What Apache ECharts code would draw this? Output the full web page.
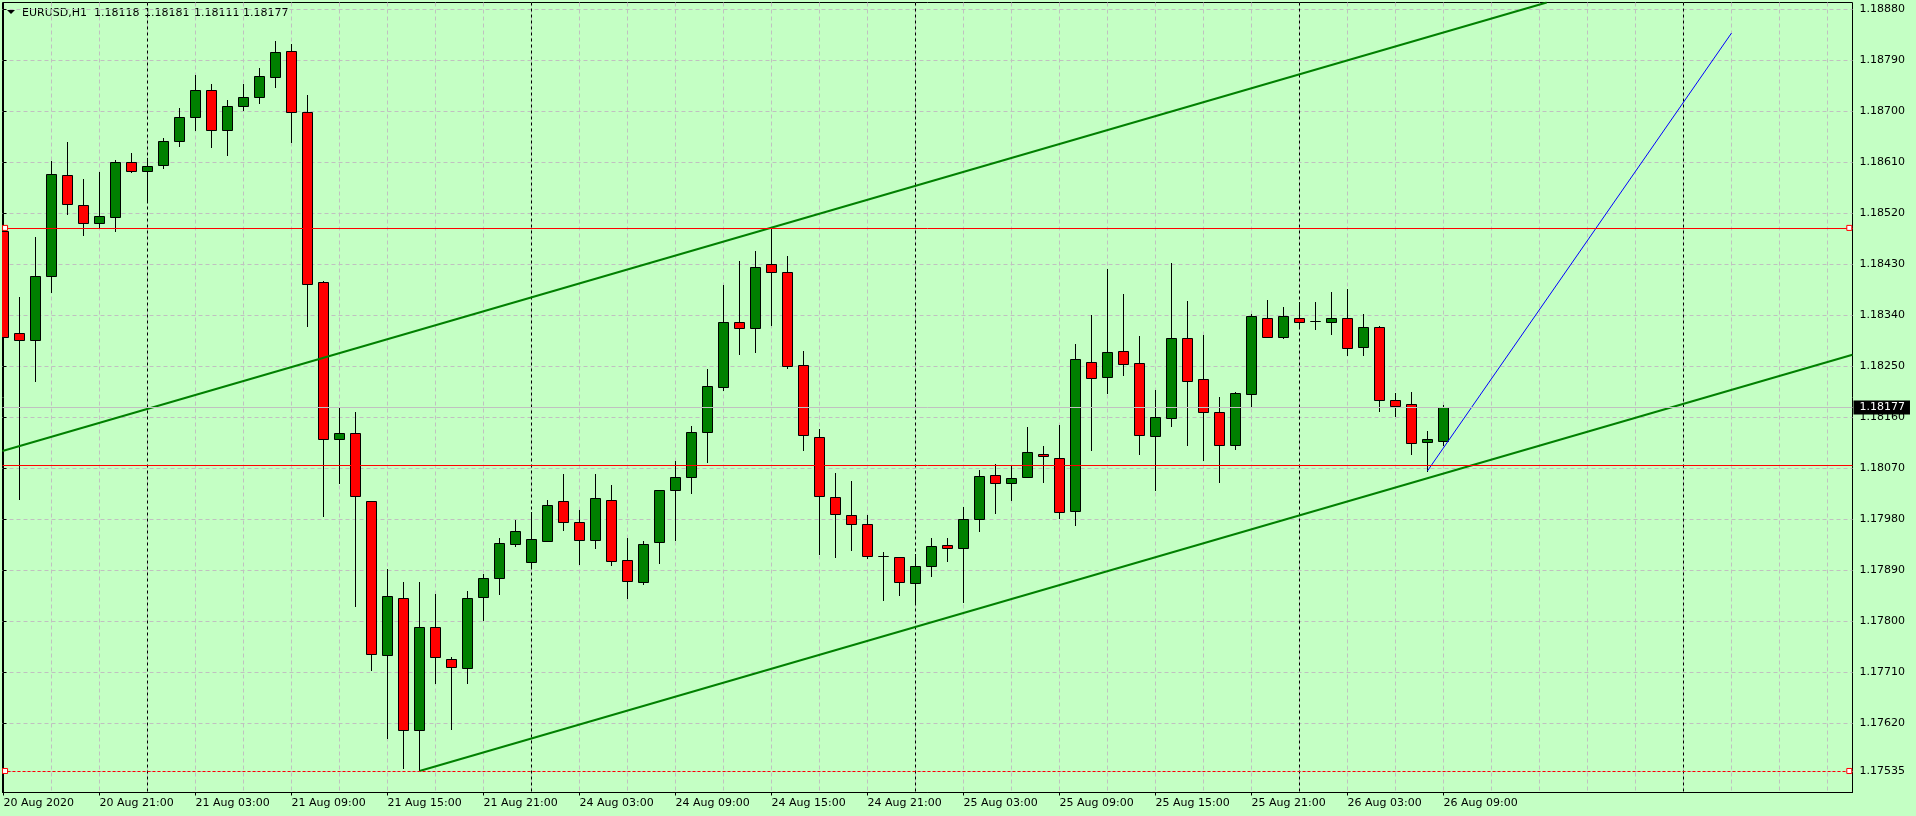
<!DOCTYPE html>
<html>
<head>
<meta charset="utf-8">
<title>EURUSD,H1</title>
<script src="https://cdn.jsdelivr.net/npm/echarts@6/dist/echarts.min.js"></script>
<style>
  html, body { margin: 0; padding: 0; background: #c4ffc4; }
  #chart { width: 1916px; height: 816px; }
</style>
</head>
<body>
<div id="chart"></div>
<script>
const symbolName = 'EURUSD,H1';

// hourly bars, 20 Aug 15:00 -> 26 Aug 09:00 : [open, high, low, close]
const candles = [
  [1.18488, 1.18558, 1.18257, 1.18301],
  [1.18308, 1.18372, 1.18015, 1.18296],
  [1.18296, 1.18478, 1.18223, 1.18409],
  [1.18409, 1.18613, 1.18380, 1.18589],
  [1.18587, 1.18646, 1.18518, 1.18536],
  [1.18534, 1.18580, 1.18482, 1.18503],
  [1.18503, 1.18593, 1.18493, 1.18515],
  [1.18513, 1.18614, 1.18489, 1.18610],
  [1.18610, 1.18627, 1.18592, 1.18594],
  [1.18594, 1.18617, 1.18539, 1.18603],
  [1.18605, 1.18652, 1.18599, 1.18647],
  [1.18647, 1.18706, 1.18639, 1.18689],
  [1.18689, 1.18764, 1.18667, 1.18737],
  [1.18737, 1.18748, 1.18636, 1.18667],
  [1.18667, 1.18720, 1.18623, 1.18709],
  [1.18710, 1.18748, 1.18703, 1.18726],
  [1.18726, 1.18777, 1.18715, 1.18763],
  [1.18760, 1.18824, 1.18742, 1.18804],
  [1.18806, 1.18819, 1.18646, 1.18698],
  [1.18698, 1.18729, 1.18320, 1.18395],
  [1.18398, 1.18400, 1.17986, 1.18121],
  [1.18122, 1.18178, 1.18043, 1.18132],
  [1.18132, 1.18169, 1.17826, 1.18020],
  [1.18012, 1.18012, 1.17713, 1.17741],
  [1.17740, 1.17892, 1.17594, 1.17844],
  [1.17840, 1.17869, 1.17540, 1.17607],
  [1.17607, 1.17869, 1.17535, 1.17789],
  [1.17789, 1.17848, 1.17690, 1.17736],
  [1.17733, 1.17736, 1.17610, 1.17718],
  [1.17717, 1.17853, 1.17690, 1.17840],
  [1.17842, 1.17883, 1.17801, 1.17876],
  [1.17876, 1.17947, 1.17848, 1.17937],
  [1.17936, 1.17979, 1.17933, 1.17959],
  [1.17904, 1.17992, 1.17893, 1.17944],
  [1.17941, 1.18014, 1.17941, 1.18004],
  [1.18012, 1.18060, 1.17960, 1.17974],
  [1.17974, 1.17996, 1.17900, 1.17943],
  [1.17943, 1.18060, 1.17928, 1.18017],
  [1.18013, 1.18040, 1.17898, 1.17905],
  [1.17907, 1.17947, 1.17840, 1.17870],
  [1.17868, 1.17941, 1.17866, 1.17936],
  [1.17939, 1.18031, 1.17903, 1.18031],
  [1.18031, 1.18083, 1.17942, 1.18054],
  [1.18054, 1.18144, 1.18025, 1.18133],
  [1.18133, 1.18245, 1.18080, 1.18214],
  [1.18213, 1.18393, 1.18207, 1.18327],
  [1.18327, 1.18436, 1.18272, 1.18317],
  [1.18318, 1.18453, 1.18274, 1.18425],
  [1.18430, 1.18494, 1.18323, 1.18416],
  [1.18416, 1.18445, 1.18247, 1.18251],
  [1.18252, 1.18277, 1.18101, 1.18128],
  [1.18124, 1.18139, 1.17919, 1.18021],
  [1.18019, 1.18061, 1.17912, 1.17988],
  [1.17987, 1.18047, 1.17926, 1.17971],
  [1.17971, 1.17987, 1.17911, 1.17914],
  [1.17915, 1.17921, 1.17837, 1.17915],
  [1.17913, 1.17913, 1.17845, 1.17868],
  [1.17867, 1.17918, 1.17834, 1.17897],
  [1.17897, 1.17947, 1.17880, 1.17932],
  [1.17934, 1.17947, 1.17905, 1.17929],
  [1.17929, 1.18001, 1.17834, 1.17980],
  [1.17980, 1.18067, 1.17958, 1.18056],
  [1.18057, 1.18077, 1.17990, 1.18043],
  [1.18043, 1.18074, 1.18013, 1.18052],
  [1.18054, 1.18143, 1.18054, 1.18098],
  [1.18094, 1.18109, 1.18046, 1.18091],
  [1.18087, 1.18146, 1.17981, 1.17992],
  [1.17994, 1.18289, 1.17970, 1.18262],
  [1.18257, 1.18340, 1.18101, 1.18229],
  [1.18230, 1.18422, 1.18203, 1.18275],
  [1.18276, 1.18377, 1.18235, 1.18253],
  [1.18255, 1.18303, 1.18094, 1.18128],
  [1.18126, 1.18208, 1.18032, 1.18160],
  [1.18158, 1.18432, 1.18145, 1.18299],
  [1.18299, 1.18365, 1.18110, 1.18223],
  [1.18227, 1.18305, 1.18084, 1.18169],
  [1.18169, 1.18196, 1.18046, 1.18110],
  [1.18110, 1.18204, 1.18104, 1.18202],
  [1.18200, 1.18342, 1.18180, 1.18338],
  [1.18335, 1.18367, 1.18301, 1.18301],
  [1.18301, 1.18355, 1.18299, 1.18338],
  [1.18335, 1.18363, 1.18317, 1.18327],
  [1.18329, 1.18363, 1.18316, 1.18329],
  [1.18327, 1.18381, 1.18307, 1.18335],
  [1.18335, 1.18386, 1.18269, 1.18282],
  [1.18283, 1.18342, 1.18269, 1.18319],
  [1.18319, 1.18320, 1.18170, 1.18190],
  [1.18190, 1.18203, 1.18161, 1.18179],
  [1.18183, 1.18204, 1.18094, 1.18114],
  [1.18116, 1.18135, 1.18065, 1.18121],
  [1.18118, 1.18181, 1.18111, 1.18177]
];

// bar index of each time label
const xTickIdx = [0, 6, 12, 18, 24, 30, 36, 42, 48, 54, 60, 66, 72, 78, 84, 90];
const xTickLabels = [
  '20 Aug 2020', '20 Aug 21:00', '21 Aug 03:00', '21 Aug 09:00',
  '21 Aug 15:00', '21 Aug 21:00', '24 Aug 03:00', '24 Aug 09:00',
  '24 Aug 15:00', '24 Aug 21:00', '25 Aug 03:00', '25 Aug 09:00',
  '25 Aug 15:00', '25 Aug 21:00', '26 Aug 03:00', '26 Aug 09:00'
];
const yTicks = [1.17535, 1.17620, 1.17710, 1.17800, 1.17890, 1.17980, 1.18070, 1.18160,
  1.18250, 1.18340, 1.18430, 1.18520, 1.18610, 1.18700, 1.18790, 1.18880];

// day starts (00:00 bars), incl. the empty space on the right
const daySeparators = [9, 33, 57, 81, 105];

// drawn objects
const redLevels = [1.18494, 1.18075];
const lowLevel = 1.17535;
const upperTrend = [[-0.0625, 1.18100], [96.45, 1.18892]];
const lowerTrend = [[26, 1.17535], [115.56, 1.18270]];
const blueTrend = [[89, 1.18065], [108, 1.18838]];

const X_MIN = -0.0625, X_MAX = 115.5625;
const Y_MIN = 1.17497, Y_MAX = 1.18892;

const FONT = '"DejaVu Sans", sans-serif';
const BULL = '#008000', BEAR = '#ff0000';
const last = candles[candles.length - 1];
const bid = last[3];

// grey grid every 3 bars
const gridIdx = [];
for (let i = 3; i < X_MAX; i += 3) gridIdx.push(i);

const chart = echarts.init(document.getElementById('chart'));

function renderCandle(params, api) {
  const i = api.value(0);
  const o = api.value(1), h = api.value(2), l = api.value(3), c = api.value(4);
  const top = api.coord([i, Math.max(o, c)]);
  const bot = api.coord([i, Math.min(o, c)]);
  const hi = api.coord([i, h]);
  const lo = api.coord([i, l]);
  const cx = Math.floor(top[0]) + 0.5;
  const half = Math.round(api.size([1, 0])[0] * 0.31);
  const yTop = Math.round(top[1]) + 0.5;
  const yBot = Math.round(bot[1]) + 0.5;
  return {
    type: 'group',
    children: [
      {
        type: 'line',
        shape: { x1: cx, y1: Math.round(hi[1]), x2: cx, y2: Math.round(lo[1]) + 1 },
        style: { stroke: '#000', lineWidth: 1 }
      },
      {
        type: 'rect',
        shape: { x: cx - half, y: yTop, width: half * 2, height: yBot - yTop },
        style: { fill: c > o ? BULL : (c < o ? BEAR : '#000'), stroke: '#000', lineWidth: 1 }
      }
    ]
  };
}

const hiddenAxis = {
  type: 'value', min: X_MIN, max: X_MAX, position: 'bottom',
  axisLine: { show: false }, axisLabel: { show: false }
};

chart.setOption({
  backgroundColor: '#c4ffc4',
  animation: false,
  textStyle: { fontFamily: FONT },
  grid: {
    left: 2.5, right: 63.5, top: 2.5, bottom: 23.5,
    show: true, borderColor: '#000', borderWidth: 1,
    backgroundColor: 'transparent',
    outerBoundsMode: 'none'
  },
  xAxis: [
    {
      type: 'value', min: X_MIN, max: X_MAX, position: 'bottom',
      axisLine: { show: true, lineStyle: { color: '#000', width: 1 } },
      axisTick: { show: true, customValues: xTickIdx, length: 3, lineStyle: { color: '#000' } },
      axisLabel: {
        customValues: xTickIdx, align: 'left', margin: 5,
        color: '#000', fontSize: 11, fontFamily: FONT,
        formatter: v => xTickLabels[xTickIdx.indexOf(Math.round(v))]
      },
      splitLine: { show: false }
    },
    Object.assign({}, hiddenAxis, {
      axisTick: { show: false, customValues: gridIdx },
      splitLine: { show: true, lineStyle: { color: '#c0c0c0', type: [4, 3], width: 1 } }
    }),
    Object.assign({}, hiddenAxis, {
      axisTick: { show: false, customValues: daySeparators },
      splitLine: { show: true, lineStyle: { color: '#000', type: [3, 3], width: 1 } }
    })
  ],
  yAxis: {
    type: 'value', position: 'right', min: Y_MIN, max: Y_MAX, scale: true,
    axisLine: { show: true, lineStyle: { color: '#000', width: 1 } },
    axisTick: { show: true, customValues: yTicks, length: 3, lineStyle: { color: '#000' } },
    axisLabel: {
      customValues: yTicks, margin: 7, color: '#000', fontSize: 11, fontFamily: FONT,
      formatter: v => v.toFixed(5)
    },
    splitLine: { show: true, lineStyle: { color: '#c0c0c0', type: [4, 3], width: 1 } }
  },
  graphic: [
    { type: 'polygon', shape: { points: [[7, 10], [15, 10], [11, 14]] }, style: { fill: '#000' } },
    { type: 'text', x: 22, y: 13, style: { text: symbolName, font: '11px ' + FONT, fill: '#000', verticalAlign: 'middle' } },
    { type: 'text', x: 94, y: 13, style: { text: last[0].toFixed(5), font: '11px ' + FONT, fill: '#000', verticalAlign: 'middle' } },
    { type: 'text', x: 144, y: 13, style: { text: last[1].toFixed(5), font: '11px ' + FONT, fill: '#000', verticalAlign: 'middle' } },
    { type: 'text', x: 194, y: 13, style: { text: last[2].toFixed(5), font: '11px ' + FONT, fill: '#000', verticalAlign: 'middle' } },
    { type: 'text', x: 243, y: 13, style: { text: last[3].toFixed(5), font: '11px ' + FONT, fill: '#000', verticalAlign: 'middle' } }
  ],
  series: [
    {
      // bid line with price box on the axis
      type: 'line', data: [], z: 1, clip: false,
      markLine: {
        silent: true, symbol: 'none', animation: false, precision: 5,
        data: [{
          yAxis: bid,
          lineStyle: { color: '#c0c0c0', type: 'solid', width: 1 },
          label: {
            show: true, position: 'end', distance: 1,
            formatter: () => bid.toFixed(5),
            color: '#fff', backgroundColor: '#000', fontSize: 11, fontFamily: FONT,
            lineHeight: 12, padding: [1, 5, 1, 6]
          }
        }]
      }
    },
    {
      type: 'custom', name: symbolName, z: 2, clip: true,
      renderItem: renderCandle,
      encode: { x: 0, y: [1, 2, 3, 4] },
      data: candles.map((d, i) => [i].concat(d))
    },
    {
      type: 'line', data: [], z: 3,
      markLine: {
        silent: true, symbol: 'none', animation: false, precision: 5, label: { show: false },
        data: redLevels.map(v => ({ yAxis: v, lineStyle: { color: '#ff0000', type: 'solid', width: 1 } }))
          .concat([{ yAxis: lowLevel, lineStyle: { color: '#ff0000', type: [3, 2], width: 1 } }])
      }
    },
    {
      type: 'line', data: upperTrend, z: 4, symbol: 'none', silent: true,
      lineStyle: { color: '#008000', width: 2 }
    },
    {
      type: 'line', data: lowerTrend, z: 4, symbol: 'none', silent: true,
      lineStyle: { color: '#008000', width: 2 }
    },
    {
      type: 'line', data: blueTrend, z: 4, symbol: 'none', silent: true,
      lineStyle: { color: '#0000ff', width: 1 }
    },
    {
      // selection handles of the two selected horizontal lines
      type: 'scatter', z: 5, silent: true, symbol: 'rect', symbolSize: 5,
      itemStyle: { color: '#ffffff', borderColor: '#ff0000', borderWidth: 1, opacity: 1 },
      data: [
        [X_MIN + 0.16, redLevels[0]], [X_MAX - 0.2, redLevels[0]],
        [X_MIN + 0.16, lowLevel], [X_MAX - 0.2, lowLevel]
      ]
    }
  ]
});
</script>
</body>
</html>
